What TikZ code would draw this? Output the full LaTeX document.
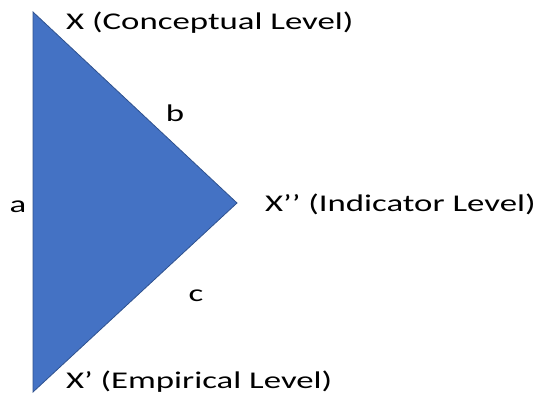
\documentclass[tikz,border=0pt]{standalone}
\usepackage{fontspec}
\setmainfont{Carlito}[FakeStretch=1.45]
\usetikzlibrary{positioning}

\definecolor{triblue}{HTML}{4472C4}
\definecolor{triedge}{HTML}{2F528F}

\begin{document}
\begin{tikzpicture}[x=1pt, y=1pt, font=\fontsize{24}{28}\selectfont,
    lbl/.style={inner sep=0pt},
    tri/.style={fill=triblue, draw=triedge, line width=0.8pt, line join=miter}]
    \useasboundingbox (0,0) rectangle (537,396);
    \coordinate (top) at (33,384);
    \coordinate (bot) at (33,4);
    \coordinate (tip) at (237,193);
    \draw[tri] (top) -- (tip) -- (bot) -- cycle;
    \node[lbl, anchor=base west] (concept) at (66,366) {X (Conceptual Level)};
    \node[lbl, anchor=base west] (indic) at (265,184) {X’’ (Indicator Level)};
    \node[lbl, anchor=base west] (empir) at (66,8) {X’ (Empirical Level)};
    \node[lbl] (a) at (18,189) {a};
    \node[lbl] (b) at (175,283) {b};
    \node[lbl] (c) at (196,100) {c};
\end{tikzpicture}
\end{document}
